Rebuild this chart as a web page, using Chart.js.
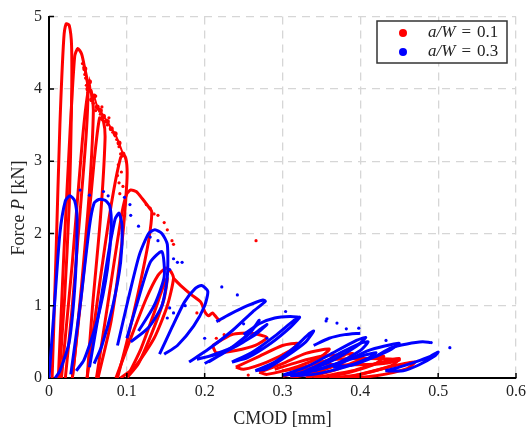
<!DOCTYPE html>
<html>
<head>
<meta charset="utf-8">
<script src="https://cdn.jsdelivr.net/npm/chart.js@4"></script>
<style>
  body { margin: 0; background: #fff; }
  #wrap { width: 530px; height: 432px; }
</style>
</head>
<body>
<div id="wrap"><canvas id="myChart"></canvas></div>
<script>
// tick labels
const xTickLabels = ['0', '0.1', '0.2', '0.3', '0.4', '0.5', '0.6'];
const yTickLabels = ['0', '1', '2', '3', '4', '5'];

// a/W = 0.1 (red) - loading/unloading cycles, [CMOD, P]
const red1 = [[0.004,0],[0.009,1.7],[0.014,3.5],[0.019,4.7],[0.022,4.9],[0.026,4.88],[0.029,4.6],[0.029,3.8],[0.026,2.4],[0.02,1.1],[0.013,0]];
const red2 = [[0.012,0],[0.019,1.7],[0.027,3.4],[0.033,4.45],[0.037,4.56],[0.042,4.48],[0.046,4.28],[0.05,4.05],[0.048,3.4],[0.04,2.3],[0.03,1.0],[0.021,0]];
const red3 = [[0.016,0],[0.03,1.6],[0.043,3.3],[0.05,3.95],[0.054,3.98],[0.057,3.7],[0.052,2.6],[0.042,1.3],[0.033,0.3],[0.03,0]];
const red4 = [[0.03,0],[0.045,1.5],[0.058,3.0],[0.065,3.6],[0.07,3.55],[0.072,3.3],[0.066,2.2],[0.056,1.0],[0.049,0]];
const red5 = [[0.049,0],[0.065,1.3],[0.08,2.4],[0.092,3.05],[0.097,3.08],[0.1,2.95],[0.1,2.7],[0.094,1.9],[0.08,0.8],[0.063,0]];
const red6 = [[0.061,0],[0.078,1.2],[0.094,2.3],[0.1,2.55],[0.105,2.6],[0.112,2.58],[0.12,2.48],[0.127,2.38],[0.132,2.3],[0.128,1.9],[0.115,1.2],[0.1,0.5],[0.088,0]];
const red7 = [[0.086,0],[0.105,0.55],[0.125,1.1],[0.14,1.42],[0.15,1.52],[0.156,1.48],[0.16,1.38],[0.152,1.0],[0.135,0.55],[0.11,0.15],[0.092,0]];
const red8 = [[0.1,0],[0.118,0.4],[0.135,0.9],[0.148,1.3],[0.152,1.38],[0.148,1.1],[0.135,0.7],[0.115,0.2],[0.1,0]];
const redEnv = [[0.046,4.28],[0.05,4.0],[0.052,4.1],[0.055,3.85],[0.058,3.9],[0.062,3.75],[0.066,3.7],[0.07,3.62],[0.075,3.55],[0.08,3.45],[0.085,3.38],[0.09,3.25],[0.095,3.1]];
const redTail = [[0.16,1.38],[0.17,1.27],[0.183,1.15],[0.195,1.05],[0.2,0.92],[0.205,0.86],[0.21,0.9],[0.215,0.84],[0.22,0.78]];
const redLow1 = [[0.21,0.45],[0.235,0.6],[0.26,0.62],[0.28,0.56],[0.265,0.45],[0.24,0.38],[0.215,0.35],[0.21,0.45]];
const redLow2 = [[0.24,0.15],[0.27,0.3],[0.3,0.45],[0.32,0.48],[0.31,0.38],[0.28,0.22],[0.25,0.12],[0.24,0.15]];
const redLow3 = [[0.27,0.08],[0.3,0.2],[0.33,0.34],[0.36,0.4],[0.35,0.3],[0.32,0.16],[0.28,0.05],[0.27,0.08]];
const redLow4 = [[0.3,0.02],[0.34,0.15],[0.37,0.3],[0.39,0.34],[0.38,0.24],[0.35,0.1],[0.31,0.0]];
const redLow5 = [[0.33,0.0],[0.37,0.12],[0.4,0.25],[0.43,0.3],[0.42,0.2],[0.38,0.06],[0.34,0.0]];
const redLow6 = [[0.35,0.02],[0.39,0.1],[0.42,0.2],[0.45,0.27],[0.44,0.17],[0.4,0.05],[0.36,0.0]];
const redLow7 = [[0.38,0.0],[0.41,0.08],[0.44,0.16],[0.47,0.22],[0.46,0.13],[0.42,0.03],[0.39,0.0]];
const redLow8 = [[0.34,0.2],[0.37,0.26],[0.41,0.27],[0.45,0.25],[0.43,0.2],[0.38,0.18],[0.34,0.2]];
const redLow9 = [[0.29,0.12],[0.32,0.22],[0.35,0.3],[0.38,0.32],[0.36,0.25],[0.33,0.16],[0.3,0.1]];
const redDots = [[0.043,4.35],[0.045,4.3],[0.047,4.15],[0.046,4.2],[0.048,4.05],[0.05,3.95],[0.052,4.1],[0.054,3.85],[0.057,3.8],[0.06,3.9],[0.06,3.7],[0.063,3.72],[0.066,3.65],[0.068,3.75],[0.07,3.6],[0.072,3.55],[0.075,3.5],[0.077,3.6],[0.079,3.45],[0.082,3.4],[0.085,3.35],[0.087,3.3],[0.09,3.2],[0.092,3.1],[0.089,2.95],[0.093,2.85],[0.09,2.7],[0.095,2.65],[0.091,2.55],[0.088,2.8],[0.125,2.4],[0.13,2.35],[0.135,2.27],[0.14,2.25],[0.148,2.15],[0.152,2.05],[0.158,1.9],[0.16,1.85],[0.266,1.9],[0.256,0.04],[0.215,0.55],[0.225,0.6],[0.19,0.9]];

// a/W = 0.3 (blue)
const blue1 = [[0.0,0],[0.007,1.0],[0.014,2.0],[0.021,2.45],[0.027,2.52],[0.033,2.45],[0.036,2.2],[0.034,1.4],[0.026,0.5],[0.014,0.1],[0.008,0]];
const blue2 = [[0.028,0.05],[0.04,1.0],[0.052,2.1],[0.058,2.42],[0.064,2.47],[0.072,2.46],[0.078,2.38],[0.08,2.1],[0.075,1.5],[0.062,0.8],[0.045,0.25],[0.035,0.1]];
const blue3 = [[0.052,0.15],[0.064,0.9],[0.076,1.7],[0.085,2.2],[0.09,2.28],[0.094,2.1],[0.092,1.6],[0.082,1.0],[0.068,0.45],[0.058,0.2]];
const blue4 = [[0.088,0.45],[0.102,1.1],[0.116,1.7],[0.128,2.0],[0.136,2.05],[0.145,2.0],[0.152,1.85],[0.152,1.4],[0.145,1.0],[0.128,0.7],[0.105,0.5]];
const blue4b = [[0.1,0.55],[0.115,1.1],[0.13,1.6],[0.145,1.75],[0.148,1.4],[0.135,1.0],[0.115,0.65]];
const blue5 = [[0.142,0.33],[0.158,0.7],[0.174,1.05],[0.188,1.24],[0.196,1.28],[0.204,1.2],[0.2,1.0],[0.186,0.72],[0.165,0.45],[0.148,0.33]];
const blue6 = [[0.18,0.22],[0.205,0.4],[0.235,0.65],[0.262,0.92],[0.278,1.06],[0.275,1.08],[0.255,1.0],[0.232,0.88],[0.215,0.78]];
const blue7 = [[0.19,0.26],[0.22,0.34],[0.25,0.5],[0.272,0.68],[0.28,0.74],[0.265,0.6],[0.235,0.42],[0.205,0.3],[0.19,0.26]];
const blue7b = [[0.2,0.2],[0.225,0.35],[0.25,0.55],[0.268,0.75],[0.27,0.8],[0.258,0.62],[0.232,0.4],[0.205,0.22]];
const blue8 = [[0.235,0.22],[0.26,0.35],[0.29,0.58],[0.315,0.8],[0.322,0.84],[0.31,0.7],[0.285,0.48],[0.255,0.28],[0.235,0.22]];
const blue8arc = [[0.25,0.6],[0.27,0.75],[0.29,0.83],[0.31,0.85],[0.322,0.84]];
const blue9 = [[0.265,0.1],[0.29,0.22],[0.315,0.42],[0.335,0.62],[0.34,0.65],[0.33,0.5],[0.305,0.3],[0.28,0.13],[0.265,0.1]];
const blue10 = [[0.3,0.04],[0.33,0.15],[0.36,0.32],[0.395,0.52],[0.407,0.56],[0.395,0.44],[0.36,0.22],[0.32,0.06],[0.3,0.04]];
const blue10b = [[0.31,0.03],[0.34,0.1],[0.37,0.2],[0.4,0.3],[0.42,0.35],[0.41,0.27],[0.38,0.15],[0.34,0.05],[0.31,0.03]];
const blue11 = [[0.33,0.1],[0.35,0.2],[0.375,0.35],[0.4,0.48],[0.41,0.5],[0.4,0.38],[0.37,0.2],[0.34,0.1]];
const blue11arc = [[0.34,0.45],[0.36,0.55],[0.38,0.6],[0.4,0.62]];
const blue12 = [[0.365,0.15],[0.39,0.28],[0.41,0.38],[0.43,0.44],[0.45,0.48],[0.44,0.4],[0.42,0.3],[0.39,0.18],[0.365,0.15]];
const blue13 = [[0.432,0.1],[0.45,0.15],[0.47,0.22],[0.49,0.3],[0.5,0.36],[0.495,0.3],[0.475,0.18],[0.455,0.1],[0.432,0.1]];
const blue13arc = [[0.42,0.3],[0.44,0.42],[0.46,0.47],[0.48,0.5],[0.49,0.49]];
const blueDots = [[0.04,2.6],[0.052,2.53],[0.07,2.58],[0.076,2.52],[0.097,2.5],[0.104,2.4],[0.105,2.25],[0.115,2.1],[0.13,1.95],[0.14,1.9],[0.165,1.6],[0.171,1.6],[0.16,1.65],[0.155,1.5],[0.152,0.83],[0.155,0.97],[0.16,0.9],[0.175,1.0],[0.222,1.26],[0.242,1.15],[0.304,0.92],[0.356,0.79],[0.37,0.76],[0.398,0.69],[0.357,0.82],[0.382,0.68],[0.433,0.52],[0.491,0.49],[0.515,0.42],[0.2,0.55],[0.25,0.75],[0.28,0.55]];

const redLines = [red1, red2, red3, red4, red5, red6, red7, red8, redTail, redLow1, redLow2, redLow3, redLow4, redLow5, redLow6, redLow7, redLow8, redLow9];
const blueLines = [blue1, blue2, blue3, blue4, blue4b, blue5, blue6, blue7, blue7b, blue8, blue8arc, blue9, blue10, blue10b, blue11, blue11arc, blue12, blue13, blue13arc];

const RED = '#ff0000';
const BLUE = '#0000ff';
const SERIF = '"Liberation Serif", "Times New Roman", serif';

function toPts(arr) {
  return arr.map(p => ({ x: p[0], y: p[1] }));
}

var datasets = [];
redLines.forEach(function(l) {
  datasets.push({ data: toPts(l), showLine: true, borderColor: RED, backgroundColor: RED, borderWidth: 3, tension: 0.22, pointRadius: 0, order: 2 });
});
datasets.push({ data: toPts(redEnv), showLine: true, borderColor: RED, backgroundColor: RED, borderWidth: 2, tension: 0, pointRadius: 1.5, order: 2 });
datasets.push({ data: toPts(redDots), showLine: false, backgroundColor: RED, borderColor: RED, pointRadius: 1.6, borderWidth: 0, order: 2 });
blueLines.forEach(function(l) {
  datasets.push({ data: toPts(l), showLine: true, borderColor: BLUE, backgroundColor: BLUE, borderWidth: 3, tension: 0.22, pointRadius: 0, order: 1 });
});
datasets.push({ data: toPts(blueDots), showLine: false, backgroundColor: BLUE, borderColor: BLUE, pointRadius: 1.6, borderWidth: 0, order: 1 });

// inward ticks, axis titles and legend
const extras = {
  id: 'extras',
  afterDraw(chart) {
    const ctx = chart.ctx;
    const a = chart.chartArea;
    const xs = chart.scales.x, ys = chart.scales.y;
    ctx.save();
    ctx.strokeStyle = '#000';
    ctx.lineWidth = 1.5;
    ctx.beginPath();
    for (let i = 1; i < xTickLabels.length; i++) {
      const px = xs.getPixelForValue(parseFloat(xTickLabels[i]));
      ctx.moveTo(px, a.bottom);
      ctx.lineTo(px, a.bottom - 5);
    }
    for (let i = 1; i < yTickLabels.length; i++) {
      const py = ys.getPixelForValue(parseFloat(yTickLabels[i]));
      ctx.moveTo(a.left, py);
      ctx.lineTo(a.left + 5, py);
    }
    ctx.stroke();

    // x title
    ctx.fillStyle = '#222';
    ctx.font = '18px ' + SERIF;
    ctx.textAlign = 'center';
    ctx.textBaseline = 'middle';
    ctx.fillText('CMOD [mm]', (a.left + a.right) / 2, 419);

    // y title with italic P
    ctx.translate(19, 208);
    ctx.rotate(-Math.PI / 2);
    const parts = [['Force ', '18px '], ['P', 'italic 18px '], [' [kN]', '18px ']];
    let w = 0;
    parts.forEach(p => { ctx.font = p[1] + SERIF; w += ctx.measureText(p[0]).width; });
    let x = -w / 2;
    ctx.textAlign = 'left';
    parts.forEach(p => { ctx.font = p[1] + SERIF; ctx.fillText(p[0], x, 0); x += ctx.measureText(p[0]).width; });
    ctx.restore();

    // legend
    ctx.save();
    ctx.fillStyle = '#fff';
    ctx.fillRect(377, 21, 130, 42);
    ctx.strokeStyle = '#333';
    ctx.lineWidth = 1.5;
    ctx.strokeRect(377, 21, 130, 42);
    const rows = [[RED, '0.1', 33], [BLUE, '0.3', 52]];
    rows.forEach(r => {
      ctx.fillStyle = r[0];
      ctx.beginPath();
      ctx.arc(403, r[2], 4, 0, Math.PI * 2);
      ctx.fill();
      ctx.fillStyle = '#222';
      ctx.textBaseline = 'middle';
      ctx.textAlign = 'left';
      let tx = 428;
      ctx.font = 'italic 17px ' + SERIF;
      ctx.fillText('a/W', tx, r[2]);
      tx += ctx.measureText('a/W').width + 6;
      ctx.font = '17px ' + SERIF;
      ctx.fillText('=', tx, r[2]);
      tx += ctx.measureText('=').width + 6;
      ctx.fillText(r[1], tx, r[2]);
    });
    ctx.restore();
  }
};

var ctx = document.getElementById('myChart').getContext('2d');
var myChart = new Chart(ctx, {
  type: 'scatter',
  data: { datasets: datasets },
  options: {
    responsive: true,
    maintainAspectRatio: false,
    devicePixelRatio: 1,
    animation: false,
    layout: { padding: { top: 10, right: 12, left: 0, bottom: 0 } },
    plugins: { legend: { display: false }, tooltip: { enabled: false } },
    scales: {
      x: {
        type: 'linear', min: 0, max: 0.6,
        afterFit: s => { s.height = 54; },
        ticks: { stepSize: 0.1, padding: 4, color: '#222', font: { family: SERIF, size: 16 },
          callback: (v, i) => xTickLabels[i] },
        grid: { color: '#d6d6d6', lineWidth: 1.3, drawTicks: false },
        border: { display: true, color: '#000', width: 2, dash: [8, 6] }
      },
      y: {
        type: 'linear', min: 0, max: 5,
        afterFit: s => { s.width = 49; },
        ticks: { stepSize: 1, padding: 7, color: '#222', font: { family: SERIF, size: 16 },
          callback: (v, i) => yTickLabels[i] },
        grid: { color: '#d6d6d6', lineWidth: 1.3, drawTicks: false },
        border: { display: true, color: '#000', width: 2, dash: [8, 6] }
      }
    }
  },
  plugins: [extras]
});
</script>
</body>
</html>
